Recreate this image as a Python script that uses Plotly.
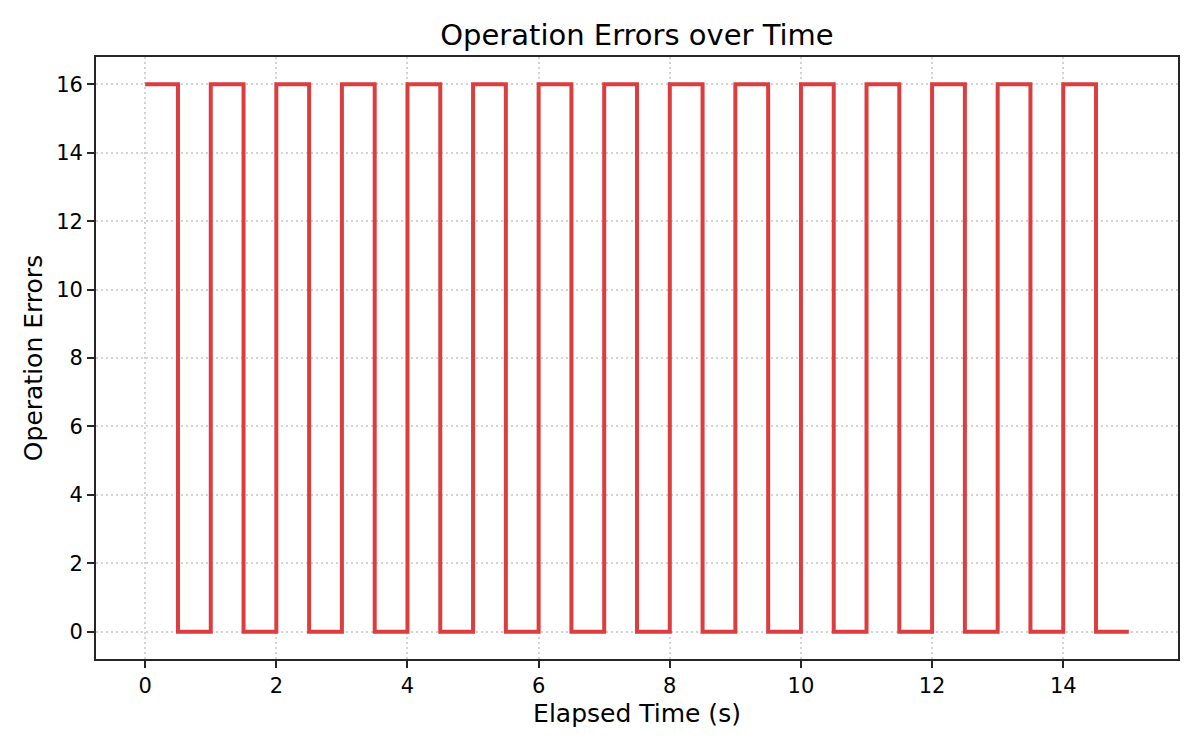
import plotly.graph_objects as go

# elapsed time (s) and operation error counts
elapsed_s = [0.0, 0.5, 1.0, 1.5, 2.0, 2.5, 3.0, 3.5, 4.0, 4.5,
             5.0, 5.5, 6.0, 6.5, 7.0, 7.5, 8.0, 8.5, 9.0, 9.5,
             10.0, 10.5, 11.0, 11.5, 12.0, 12.5, 13.0, 13.5, 14.0, 14.5, 15.0]
op_errors = [16, 0, 16, 0, 16, 0, 16, 0, 16, 0,
             16, 0, 16, 0, 16, 0, 16, 0, 16, 0,
             16, 0, 16, 0, 16, 0, 16, 0, 16, 0, 0]

x_ticks = [0, 2, 4, 6, 8, 10, 12, 14]
y_ticks = [0, 2, 4, 6, 8, 10, 12, 14, 16]

font = "DejaVu Sans"
ink = "#262626"

fig = go.Figure(go.Scatter(
    x=elapsed_s, y=op_errors,
    mode="lines",
    line=dict(shape="hv", color="#dc3d3f", width=4),
))

axis_common = dict(
    showline=True, mirror=True, linecolor=ink, linewidth=1.7,
    ticks="outside", ticklen=7, tickwidth=1.5, tickcolor=ink,
    tickfont=dict(family=font, size=21, color="black"),
    showgrid=True, gridcolor="#d3d3d3", griddash="1.5px,3.5px", gridwidth=1.5,
    zeroline=False,
)

# page body adds an 8px offset, so margins are shifted to compensate
fig.update_layout(
    width=1200, height=750,
    margin=dict(l=88, r=30, t=49, b=99),
    paper_bgcolor="white", plot_bgcolor="white",
    showlegend=False,
    title=dict(text="Operation Errors over Time", x=(88 + 1170) / 2 / 1200,
               xanchor="center", xref="container",
               y=1 - 27 / 750, yref="container", yanchor="middle",
               font=dict(family=font, size=29, color="black")),
    xaxis=dict(range=[-0.75, 15.75], tickvals=x_ticks,
               title=dict(text="Elapsed Time (s)", standoff=7,
                          font=dict(family=font, size=25, color="black")),
               **axis_common),
    yaxis=dict(range=[-0.8, 16.8], tickvals=y_ticks,
               title=dict(text="Operation Errors", standoff=6,
                          font=dict(family=font, size=25, color="black")),
               **axis_common),
)

fig.write_html("out.html")
